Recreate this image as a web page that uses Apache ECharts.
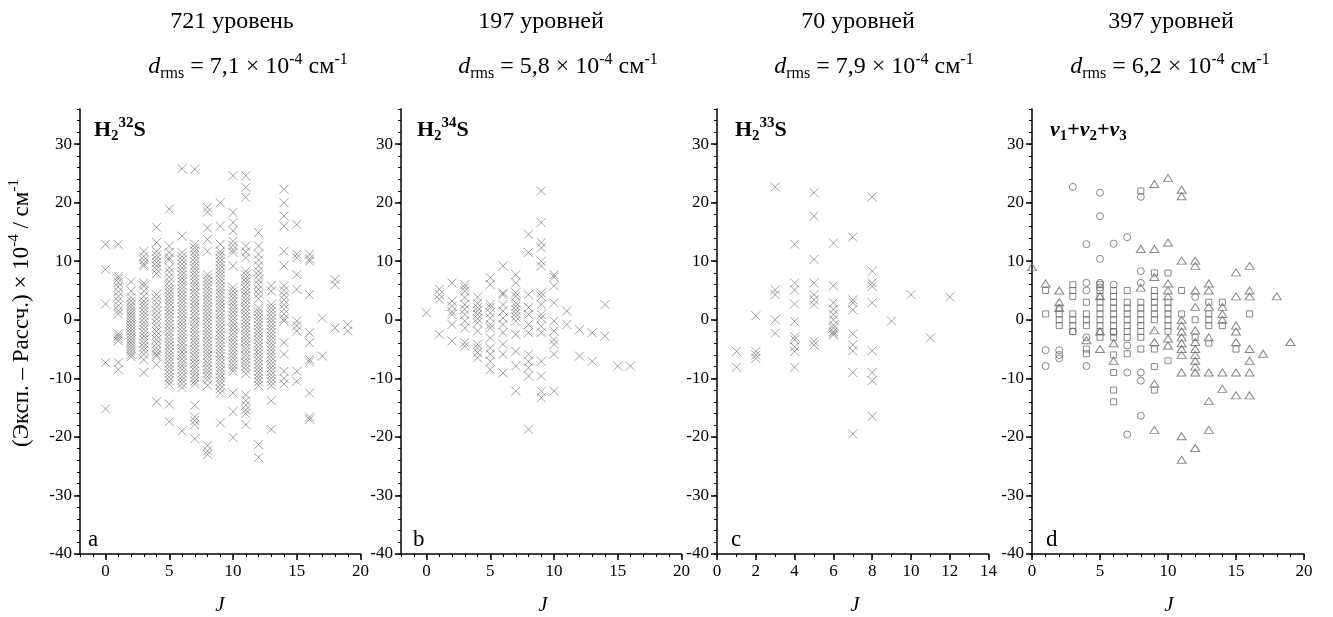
<!DOCTYPE html>
<html><head><meta charset="utf-8">
<script src="https://cdn.jsdelivr.net/npm/echarts@6/dist/echarts.min.js"></script>
<style>html,body{margin:0;padding:0;background:#fff}#c{width:1333px;height:617px}</style>
</head><body><div id="c"></div>
<script>
// ---- data (values in 10^-4 cm-1), grouped as [J, [values...]] ----
const a_cols = [
 [0,[12.9,8.6,2.7,-7.3,-15.2]],
 [1,[12.9,7.4,7.0,6.4,5.6,4.8,4.0,3.2,2.4,1.6,1.0,-2.4,-2.8,-3.2,-3.6,-7.3,-8.5]],
 [2,[6.5,4.9,3.8,3.2,2.6,2.1,1.6,1.1,0.6,0.1,-0.4,-0.9,-1.4,-1.9,-2.4,-2.9,-3.4,-3.9,-4.4,-4.9,-5.4,-5.9,-6.3]],
 [3,[11.7,10.8,10.2,9.6,9.2,6.3,5.8,4.9,4.0,3.2,2.6,2.0,1.4,0.8,0.2,-0.4,-1.0,-1.6,-2.2,-2.8,-3.4,-4.0,-4.6,-5.2,-5.9,-6.8,-9.0]],
 [4,[15.8,13.2,11.7,11.0,10.4,9.8,9.2,8.6,7.9,4.3,3.6,2.9,2.2,1.5,0.8,0.1,-0.6,-1.3,-2.0,-2.7,-3.4,-4.1,-4.8,-5.4,-5.9,-6.2,-7.6,-14.0]],
 [5,[18.9,12.6,11.5,10.6,10.2,8.9,8.1,7.3,6.5,5.8,5.2,4.6,4.0,3.4,2.8,2.2,1.6,1.0,0.4,-0.2,-0.8,-1.4,-2.0,-2.6,-3.2,-3.8,-4.4,-5.0,-5.6,-6.2,-6.8,-7.4,-8.0,-8.6,-9.2,-9.8,-10.4,-11.0,-14.4,-17.4]],
 [6,[25.8,14.3,11.5,10.8,10.2,9.5,8.9,8.3,7.7,7.1,6.5,5.9,5.3,4.7,4.1,3.5,2.9,2.3,1.7,1.1,0.5,-0.1,-0.7,-1.3,-1.9,-2.5,-3.1,-3.7,-4.3,-4.9,-5.5,-6.1,-6.7,-7.3,-7.9,-8.5,-9.1,-9.7,-10.3,-10.9,-11.6,-19.0]],
 [7,[25.7,12.9,12.3,11.7,11.1,10.5,9.9,9.3,8.7,8.1,7.5,6.9,6.3,5.7,5.1,4.5,3.9,3.3,2.7,2.1,1.5,0.9,0.3,-0.3,-0.9,-1.5,-2.1,-2.7,-3.3,-3.9,-4.5,-5.1,-5.7,-6.3,-6.9,-7.5,-8.1,-8.7,-9.3,-9.9,-10.5,-11.0,-14.6,-16.6,-17.2,-17.9,-20.3]],
 [8,[19.2,18.4,15.7,13.7,11.7,7.7,7.1,6.5,5.9,5.3,4.7,4.1,3.5,2.9,2.3,1.7,1.1,0.5,-0.1,-0.7,-1.3,-1.9,-2.5,-3.1,-3.7,-4.3,-4.9,-5.5,-6.1,-6.7,-7.3,-7.9,-8.5,-9.1,-9.7,-10.3,-11.2,-21.5,-22.4,-23.0]],
 [9,[20.0,16.0,12.9,11.7,11.1,10.5,9.9,9.3,8.7,8.1,7.5,6.9,6.3,5.7,5.1,4.5,3.9,3.3,2.7,2.1,1.5,0.9,0.3,-0.3,-0.9,-1.5,-2.1,-2.7,-3.3,-3.9,-4.5,-5.1,-5.7,-6.3,-6.9,-7.5,-8.1,-8.7,-9.3,-9.9,-10.5,-11.1,-11.8,-12.5,-17.6]],
 [10,[24.6,18.3,16.6,15.2,13.4,12.7,12.0,11.5,9.2,5.5,4.9,4.3,3.7,3.1,2.5,1.9,1.3,0.7,0.1,-0.5,-1.1,-1.7,-2.3,-2.9,-3.5,-4.1,-4.7,-5.3,-5.9,-6.5,-7.1,-7.7,-8.3,-8.8,-12.5,-15.7,-20.1]],
 [11,[24.6,22.6,20.9,12.6,11.6,10.6,8.3,7.7,7.1,6.5,5.9,5.3,4.7,4.1,3.5,2.9,2.3,1.7,1.1,0.5,-0.1,-0.7,-1.3,-1.9,-2.5,-3.1,-3.7,-4.3,-4.9,-5.5,-6.1,-6.7,-7.3,-7.9,-8.5,-9.2,-12.8,-13.8,-14.6,-15.4,-16.0,-17.9]],
 [12,[14.9,12.6,11.2,10.2,9.2,8.3,7.6,6.8,6.0,5.2,4.4,3.6,2.0,1.4,0.8,0.2,-0.4,-1.0,-1.6,-2.2,-2.8,-3.4,-4.0,-4.6,-5.2,-5.8,-6.4,-7.0,-7.6,-8.2,-8.8,-9.4,-10.0,-10.6,-11.2,-21.3,-23.5]],
 [13,[5.8,4.9,2.6,2.0,1.4,0.8,0.2,-0.4,-1.0,-1.6,-2.2,-2.8,-3.4,-4.0,-4.6,-5.2,-5.8,-6.4,-7.0,-7.6,-8.2,-8.8,-9.4,-10.0,-10.6,-11.2,-13.8,-18.7]],
 [14,[22.3,20.0,17.7,16.0,11.7,9.2,5.8,5.0,4.2,3.4,2.6,1.8,1.0,0.2,-0.2,-3.9,-5.9,-8.8,-10.0,-11.0]],
 [15,[16.3,11.2,10.6,7.7,5.2,-0.2,-1.0,-1.9,-8.8,-10.5]],
 [16,[11.2,10.4,10.0,4.3,-2.2,-3.9,-6.8,-7.2,-12.5,-16.6,-17.0]],
 [17,[0.3,-6.2]],
 [18,[6.9,6.0,-1.4]],
 [19,[-0.8,-1.9]]
];
const b_cols = [
 [0,[1.2]],
 [1,[5.2,4.3,3.5,-2.5]],
 [2,[6.3,3.2,2.3,1.4,0.9,-0.8,-3.6]],
 [3,[6.0,5.5,4.9,3.8,2.6,1.8,0.9,-0.2,-1.4,-3.9,-4.5]],
 [4,[3.9,2.8,2.1,1.5,0.9,0.2,-0.5,-1.9,-4.2,-4.8,-5.6,-6.5]],
 [5,[7.2,6.0,2.6,2.1,1.2,0.3,-0.8,-1.4,-3.1,-4.8,-5.9,-7.1,-8.5]],
 [6,[9.2,4.6,4.3,2.6,1.5,0.3,-0.8,-2.2,-4.2,-5.9,-9.1]],
 [7,[7.7,6.3,4.6,4.0,2.9,2.3,1.7,1.1,0.5,-0.2,-2.5,-5.4,-7.9,-12.2]],
 [8,[14.6,11.5,4.3,2.1,0.9,-0.8,-2.2,-5.9,-7.1,-8.2,-9.6,-18.7]],
 [9,[22.0,16.6,13.2,12.3,10.0,9.2,4.6,4.0,2.6,0.9,0.3,-1.1,-2.2,-7.1,-9.6,-12.2,-13.3]],
 [10,[7.7,7.3,5.8,2.9,-0.2,-1.9,-3.4,-4.2,-5.9,-12.2]],
 [11,[1.5,-0.8]],
 [12,[-1.7,-6.2]],
 [13,[-2.2,-7.1]],
 [14,[2.6,-2.8]],
 [15,[-7.9]],
 [16,[-7.9]]
];
const c_cols = [
 [1,[-5.4,-8.1]],
 [2,[0.7,-5.4,-6.0,-6.6]],
 [3,[22.7,5.1,4.3,0.0,-2.3]],
 [4,[12.9,6.3,5.1,2.7,-0.3,-2.9,-3.4,-4.6,-5.4,-8.1]],
 [5,[21.7,17.7,10.3,6.3,4.3,3.4,2.6,-3.7,-4.3]],
 [6,[13.1,5.8,2.9,1.8,0.9,0.0,-0.9,-1.4,-2.0,-2.3,-2.6]],
 [7,[14.1,3.4,2.9,1.7,-2.4,-4.3,-5.3,-9.0,-19.5]],
 [8,[21.0,8.3,6.3,5.7,2.9,-5.3,-9.0,-10.4,-16.5]],
 [9,[-0.2]],
 [10,[4.3]],
 [11,[-3.1]],
 [12,[3.9]]
];
const d_circles = [[1,-5.2],[1,-7.9],[2,-5.2],[2,-6.0],[2,-6.6],[3,22.7],[3,-2.0],
 [4,12.9],[4,6.3],[4,5.0],[4,-3.0],[4,-7.9],[5,21.7],[5,17.7],[5,10.4],[5,6.3],[5,5.5],
 [6,13.0],[6,6.0],[6,-2.1],[7,14.1],[7,-4.4],[7,-9.0],[7,-19.6],
 [8,21.0],[8,8.3],[8,6.3],[8,-9.0],[8,-10.4],[8,-16.4],[12,3.9]];
const d_squares = [[1,5.0],[1,1.0],[2,2.0],[2,1.0],[2,0.0],[2,-1.0],
 [3,6.0],[3,5.0],[3,4.0],[3,1.0],[3,0.0],[3,-1.0],[3,-2.0],
 [4,3.0],[4,1.0],[4,0.0],[4,-1.0],[4,-5.0],[4,-5.8],
 [5,6.0],[5,5.0],[5,4.0],[5,3.0],[5,2.0],[5,1.0],[5,0.0],[5,-1.0],[5,-2.0],[5,-3.0],
 [6,5.0],[6,4.0],[6,3.0],[6,2.0],[6,1.0],[6,0.0],[6,-1.0],[6,-2.0],[6,-3.0],[6,-6.0],[6,-9.0],[6,-12.0],[6,-14.0],
 [7,5.0],[7,3.0],[7,2.0],[7,1.0],[7,0.0],[7,-1.0],[7,-2.0],[7,-3.0],[7,-5.8],
 [8,22.0],[8,3.0],[8,2.0],[8,1.0],[8,0.0],[8,-1.0],[8,-2.0],[8,-3.0],[8,-5.0],
 [9,8.0],[9,5.0],[9,4.0],[9,3.0],[9,2.0],[9,1.0],[9,0.0],[9,-5.0],[9,-8.0],[9,-12.0],
 [10,8.0],[10,3.0],[10,2.0],[10,1.0],[10,0.0],[10,-1.0],[10,-2.0],[10,-7.0],
 [11,5.0],[11,1.0],[12,0.0],[12,-3.0],[13,3.0],[13,1.0],[13,0.0],[13,-1.0],[13,-4.0],
 [14,3.0],[14,-1.0],[15,-5.0],[16,1.0]];
const d_triangles = [[0,9.0],[1,6.2],[2,5.0],[2,3.0],[2,2.0],[4,-3.5],[5,4.0],[5,-2.0],[5,-5.0],
 [6,-4.0],[6,-7.0],[8,12.1],[8,5.5],
 [9,23.2],[9,12.1],[9,7.3],[9,-1.8],[9,-3.8],[9,-10.9],[9,-18.8],
 [10,24.2],[10,13.2],[10,6.2],[10,5.0],[10,4.0],[10,-3.2],[10,-4.4],
 [11,22.2],[11,21.1],[11,10.1],[11,0.0],[11,-1.0],[11,-2.0],[11,-3.0],[11,-4.0],[11,-5.0],[11,-6.0],[11,-9.0],[11,-19.9],[11,-23.9],
 [12,10.1],[12,9.2],[12,5.0],[12,2.2],[12,-1.8],[12,-3.8],[12,-5.0],[12,-6.0],[12,-7.0],[12,-8.0],[12,-9.0],[12,-21.9],
 [13,6.2],[13,5.0],[13,2.2],[13,-3.0],[13,-9.0],[13,-13.9],[13,-18.8],
 [14,2.2],[14,1.0],[14,0.0],[14,-9.0],[14,-11.8],
 [15,8.1],[15,4.0],[15,-1.0],[15,-2.0],[15,-3.8],[15,-9.0],[15,-12.9],
 [16,9.2],[16,5.0],[16,4.0],[16,-5.0],[16,-7.0],[16,-9.0],[16,-12.9],
 [17,-5.8],[18,4.0],[19,-3.8]];

const levelTitles = ['721 уровень','197 уровней','70 уровней','397 уровней'];
const drmsValues = ['7,1','5,8','7,9','6,2'];
const panelLetters = ['a','b','c','d'];
const yTicks = [-40,-30,-20,-10,0,10,20,30];
const xRanges = [[-2,20],[-2,20],[0,14],[0,20]];
const xMajor = [[0,5,10,15,20],[0,5,10,15,20],[0,2,4,6,8,10,12,14],[0,5,10,15,20]];

// ---- layout ----
const grids = [
 {left:80, top:109, width:280.5, height:445},
 {left:401, top:109, width:280.5, height:445},
 {left:717, top:109, width:271.6, height:445},
 {left:1032, top:109, width:272, height:445}
];
const SERIF = '"Liberation Serif","Times New Roman",serif';
const flat = cols => cols.flatMap(([j,vals]) => vals.map(v => [j,v]));

const xAxis = [], yAxis = [];
grids.forEach((g,i) => {
  const [mn,mx] = xRanges[i];
  const maj = xMajor[i];
  xAxis.push({gridIndex:i, type:'value', min:mn, max:mx, interval:1, position:'bottom',
    axisLine:{onZero:false, lineStyle:{color:'#000',width:1.5}},
    axisTick:{length:3, lineStyle:{color:'#000',width:1}},
    axisLabel:{color:'#000', fontFamily:SERIF, fontSize:17, margin:9,
      formatter: v => maj.indexOf(v) >= 0 ? String(v) : ''},
    splitLine:{show:false}});
  xAxis.push({gridIndex:i, type:'value', min:mn, max:mx, interval:1, position:'bottom',
    axisLine:{show:false, onZero:false}, axisLabel:{show:false}, splitLine:{show:false},
    axisTick:{show:true, length:6, customValues:maj, lineStyle:{color:'#000',width:1.5}}});
  yAxis.push({gridIndex:i, type:'value', min:-40, max:36, interval:2, position:'left',
    axisLine:{onZero:false, lineStyle:{color:'#000',width:1.5}},
    axisTick:{length:3, lineStyle:{color:'#000',width:1}},
    axisLabel:{color:'#000', fontFamily:SERIF, fontSize:17, margin:8,
      formatter: v => yTicks.indexOf(v) >= 0 ? String(v) : ''},
    splitLine:{show:false}});
  yAxis.push({gridIndex:i, type:'value', min:-40, max:36, interval:2, position:'left',
    axisLine:{show:false, onZero:false}, axisLabel:{show:false}, splitLine:{show:false},
    axisTick:{show:true, length:6, customValues:yTicks, lineStyle:{color:'#000',width:1.5}}});
});

const crossSym = 'path://M0,0L10,10M10,0L0,10';
const crossStyle = {color:'rgba(0,0,0,0)', borderColor:'rgba(40,40,40,0.55)', borderWidth:1};
const openStyle = {color:'rgba(0,0,0,0)', borderColor:'#6a6a6a', borderWidth:1};
const series = [
 {type:'scatter', xAxisIndex:0, yAxisIndex:0, data:flat(a_cols), symbol:crossSym, symbolSize:9, itemStyle:crossStyle, silent:true},
 {type:'scatter', xAxisIndex:2, yAxisIndex:2, data:flat(b_cols), symbol:crossSym, symbolSize:9, itemStyle:crossStyle, silent:true},
 {type:'scatter', xAxisIndex:4, yAxisIndex:4, data:flat(c_cols), symbol:crossSym, symbolSize:9, itemStyle:crossStyle, silent:true},
 {type:'scatter', xAxisIndex:6, yAxisIndex:6, data:d_squares, symbol:'rect', symbolSize:6, itemStyle:openStyle, silent:true},
 {type:'scatter', xAxisIndex:6, yAxisIndex:6, data:d_circles, symbol:'circle', symbolSize:7, itemStyle:openStyle, silent:true},
 {type:'scatter', xAxisIndex:6, yAxisIndex:6, data:d_triangles, symbol:'triangle', symbolSize:[9,7], itemStyle:openStyle, silent:true}
];

// ---- texts ----
const titleX = [232,541,858,1171];
const drmsX = [248,558,874,1170];
const nameX = [94,417,735,1050];
const letterX = [88,413,731,1046];
const jX = [220,543,855,1169];
const rich = {
  n:{fontFamily:SERIF, fontSize:24, lineHeight:30, fill:'#000'},
  i:{fontFamily:SERIF, fontSize:24, fontStyle:'italic', lineHeight:30, fill:'#000'},
  sub:{fontFamily:SERIF, fontSize:16, lineHeight:17, verticalAlign:'bottom', fill:'#000'},
  sup:{fontFamily:SERIF, fontSize:16, lineHeight:17, verticalAlign:'top', fill:'#000'},
  ny:{fontFamily:SERIF, fontSize:23, lineHeight:30, fill:'#000'},
  supy:{fontFamily:SERIF, fontSize:15, lineHeight:16, verticalAlign:'top', fill:'#000'},
  b:{fontFamily:SERIF, fontSize:22, fontWeight:'bold', lineHeight:28, fill:'#000'},
  bi:{fontFamily:SERIF, fontSize:22, fontWeight:'bold', fontStyle:'italic', lineHeight:28, fill:'#000'},
  bsub:{fontFamily:SERIF, fontSize:15, fontWeight:'bold', lineHeight:15, verticalAlign:'bottom', fill:'#000'},
  bsup:{fontFamily:SERIF, fontSize:15, fontWeight:'bold', lineHeight:15, verticalAlign:'top', fill:'#000'}
};
const panelNames = [
  '{b|H}{bsub|2}{bsup|32}{b|S}',
  '{b|H}{bsub|2}{bsup|34}{b|S}',
  '{b|H}{bsub|2}{bsup|33}{b|S}',
  '{bi|v}{bsub|1}{b|+}{bi|v}{bsub|2}{b|+}{bi|v}{bsub|3}'
];
const graphic = [];
for (let i=0;i<4;i++){
  graphic.push({type:'text', x:titleX[i], y:22, silent:true,
    style:{text:levelTitles[i], font:'24px '+SERIF, fill:'#000', align:'center', verticalAlign:'middle'}});
  graphic.push({type:'text', x:drmsX[i], y:67, silent:true,
    style:{text:'{i|d}{sub|rms}{n| = '+drmsValues[i]+' × 10}{sup|-4}{n| см}{sup|-1}', rich:rich, align:'center', verticalAlign:'middle'}});
  graphic.push({type:'text', x:nameX[i], y:130, silent:true,
    style:{text:panelNames[i], rich:rich, align:'left', verticalAlign:'middle'}});
  graphic.push({type:'text', x:letterX[i], y:540, silent:true,
    style:{text:panelLetters[i], font:'23px '+SERIF, fill:'#000', align:'left', verticalAlign:'middle'}});
  graphic.push({type:'text', x:jX[i], y:605, silent:true,
    style:{text:'J', font:'italic 21px '+SERIF, fill:'#000', align:'center', verticalAlign:'middle'}});
}
graphic.push({type:'text', x:22, y:313, rotation:Math.PI/2, silent:true,
  style:{text:'{ny|(Эксп. – Рассч.) × 10}{supy|-4}{ny| / см}{supy|-1}', rich:rich, align:'center', verticalAlign:'middle'}});

const chart = echarts.init(document.getElementById('c'), null, {renderer:'canvas'});
chart.setOption({animation:false, backgroundColor:'#fff', grid:grids, xAxis, yAxis, series, graphic});
</script></body></html>
